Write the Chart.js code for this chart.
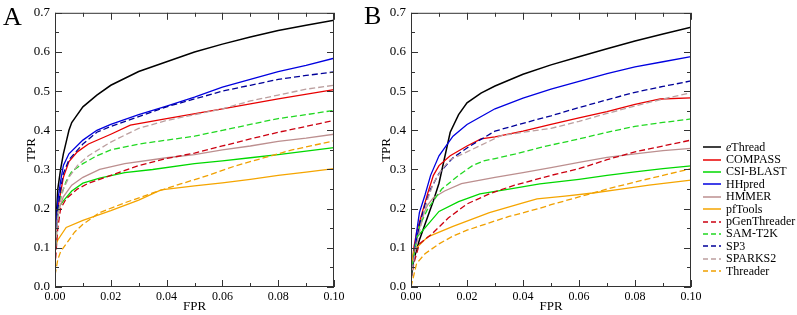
<!DOCTYPE html>
<html>
<head>
<meta charset="utf-8">
<script src="https://cdn.jsdelivr.net/npm/chart.js@4.4.0/dist/chart.umd.min.js"></script>
<style>
  body { margin: 0; background: #fff; }
  #wrap { position: relative; width: 797px; height: 315px; font-family: "Liberation Serif", serif; color: #000; }
  .panel { position: absolute; top: 0; height: 315px; }
  .letter { position: absolute; font-size: 26px; line-height: 26px; }
  #legend { position: absolute; left: 703px; top: 141px; font-size: 12px; z-index: 2; }
  .row { height: 12.4px; display: flex; align-items: center; white-space: nowrap; }
  .row svg { width: 18px; height: 4px; margin-right: 5px; }
</style>
</head>
<body>
<div id="wrap">
  <div class="panel" style="left:0;width:362px"><canvas id="chartA"></canvas></div>
  <div class="panel" style="left:360px;width:360px"><canvas id="chartB"></canvas></div>
  <div class="letter" style="left:3px;top:4px">A</div>
  <div class="letter" style="left:364px;top:3px">B</div>
  <div id="legend"></div>
</div>
<script>
// Métodos y estilos
const names = ['eThread', 'COMPASS', 'CSI-BLAST', 'HHpred', 'HMMER', 'pfTools',
               'pGenThreader', 'SAM-T2K', 'SP3', 'SPARKS2', 'Threader'];
const colors = ['#000000', '#e80000', '#00d800', '#0000e0', '#bc8f8f', '#f5a500',
                '#cc0010', '#22d822', '#000099', '#bc9f9f', '#f0a000'];
const dashed = [false, false, false, false, false, false, true, true, true, true, true];

// Ejes
const fprTicks = [0, 0.02, 0.04, 0.06, 0.08, 0.10];
const tprTicks = [0, 0.1, 0.2, 0.3, 0.4, 0.5, 0.6, 0.7];

// Panel A: [FPR, TPR]
const eThreadA = [[0,0.12],[0.001,0.25],[0.002,0.30],[0.003,0.34],[0.004,0.37],[0.005,0.40],[0.006,0.42],[0.007,0.43],[0.01,0.46],[0.015,0.49],[0.02,0.515],[0.03,0.55],[0.04,0.575],[0.05,0.60],[0.06,0.62],[0.07,0.638],[0.08,0.655],[0.09,0.668],[0.1,0.681]];
const compassA = [[0,0.1],[0.001,0.2],[0.002,0.24],[0.003,0.28],[0.005,0.32],[0.008,0.345],[0.012,0.365],[0.02,0.39],[0.027,0.413],[0.04,0.43],[0.06,0.455],[0.08,0.48],[0.1,0.504]];
const csiBlastA = [[0,0.1],[0.001,0.2],[0.003,0.22],[0.006,0.245],[0.01,0.265],[0.016,0.278],[0.025,0.292],[0.035,0.30],[0.05,0.315],[0.06,0.322],[0.07,0.33],[0.08,0.338],[0.09,0.347],[0.1,0.356]];
const hhpredA = [[0,0.10],[0.001,0.22],[0.002,0.27],[0.003,0.31],[0.005,0.34],[0.01,0.375],[0.015,0.40],[0.02,0.415],[0.03,0.44],[0.04,0.462],[0.05,0.485],[0.06,0.51],[0.07,0.53],[0.08,0.55],[0.09,0.566],[0.1,0.584]];
const hmmerA = [[0,0.1],[0.001,0.19],[0.003,0.23],[0.006,0.26],[0.01,0.28],[0.016,0.30],[0.025,0.315],[0.04,0.33],[0.05,0.338],[0.06,0.35],[0.07,0.36],[0.08,0.372],[0.09,0.38],[0.1,0.39]];
const pfToolsA = [[0,0.1],[0.001,0.12],[0.004,0.152],[0.01,0.17],[0.02,0.195],[0.03,0.222],[0.038,0.248],[0.05,0.258],[0.06,0.266],[0.07,0.275],[0.08,0.285],[0.09,0.293],[0.1,0.302]];
const pGenA = [[0,0.05],[0.001,0.15],[0.002,0.20],[0.004,0.225],[0.008,0.25],[0.012,0.265],[0.016,0.275],[0.02,0.285],[0.03,0.31],[0.04,0.328],[0.05,0.342],[0.06,0.36],[0.07,0.378],[0.08,0.395],[0.09,0.41],[0.1,0.425]];
const samT2kA = [[0,0.08],[0.001,0.18],[0.002,0.23],[0.004,0.27],[0.006,0.295],[0.01,0.315],[0.015,0.335],[0.02,0.35],[0.03,0.365],[0.04,0.375],[0.05,0.385],[0.06,0.40],[0.07,0.415],[0.08,0.43],[0.09,0.44],[0.1,0.451]];
const sp3A = [[0,0.08],[0.001,0.20],[0.002,0.25],[0.003,0.29],[0.005,0.325],[0.01,0.365],[0.015,0.395],[0.02,0.41],[0.03,0.435],[0.04,0.46],[0.05,0.48],[0.06,0.50],[0.07,0.515],[0.08,0.53],[0.09,0.54],[0.1,0.549]];
const sparks2A = [[0,0.08],[0.001,0.18],[0.002,0.22],[0.003,0.25],[0.005,0.28],[0.008,0.31],[0.012,0.335],[0.02,0.37],[0.03,0.405],[0.04,0.425],[0.05,0.44],[0.06,0.455],[0.07,0.475],[0.08,0.49],[0.09,0.505],[0.1,0.515]];
const threaderA = [[0,0.03],[0.001,0.07],[0.002,0.09],[0.004,0.11],[0.007,0.14],[0.01,0.16],[0.016,0.19],[0.025,0.215],[0.035,0.24],[0.045,0.263],[0.055,0.285],[0.065,0.31],[0.075,0.33],[0.085,0.35],[0.1,0.373]];

// Panel B: [FPR, TPR]
const eThreadB = [[0,0.02],[0.001,0.07],[0.003,0.12],[0.005,0.16],[0.008,0.22],[0.01,0.265],[0.012,0.33],[0.014,0.395],[0.017,0.44],[0.02,0.47],[0.025,0.495],[0.03,0.513],[0.04,0.543],[0.05,0.567],[0.06,0.588],[0.07,0.608],[0.08,0.628],[0.09,0.646],[0.1,0.663]];
const compassB = [[0,0.03],[0.001,0.1],[0.002,0.14],[0.004,0.19],[0.006,0.24],[0.008,0.285],[0.01,0.31],[0.014,0.335],[0.02,0.36],[0.025,0.378],[0.03,0.383],[0.04,0.398],[0.05,0.415],[0.06,0.432],[0.07,0.448],[0.08,0.466],[0.089,0.48],[0.1,0.483]];
const csiBlastB = [[0,0.03],[0.001,0.09],[0.002,0.126],[0.005,0.151],[0.01,0.193],[0.017,0.218],[0.0246,0.238],[0.035,0.25],[0.046,0.263],[0.06,0.275],[0.07,0.285],[0.08,0.294],[0.09,0.302],[0.1,0.309]];
const hhpredB = [[0,0.03],[0.001,0.08],[0.002,0.14],[0.003,0.19],[0.005,0.235],[0.007,0.285],[0.01,0.335],[0.015,0.385],[0.02,0.415],[0.03,0.455],[0.04,0.482],[0.05,0.505],[0.06,0.525],[0.07,0.545],[0.08,0.562],[0.09,0.575],[0.1,0.588]];
const hmmerB = [[0,0.04],[0.001,0.08],[0.002,0.12],[0.004,0.18],[0.006,0.21],[0.008,0.228],[0.012,0.245],[0.018,0.264],[0.03,0.28],[0.04,0.292],[0.05,0.305],[0.06,0.318],[0.07,0.331],[0.08,0.34],[0.09,0.348],[0.1,0.354]];
const pfToolsB = [[0,0.05],[0.001,0.09],[0.002,0.1],[0.006,0.128],[0.015,0.155],[0.028,0.19],[0.04,0.215],[0.045,0.225],[0.055,0.232],[0.065,0.24],[0.075,0.25],[0.085,0.26],[0.1,0.273]];
const pGenB = [[0,0.02],[0.001,0.06],[0.003,0.11],[0.0074,0.135],[0.0133,0.176],[0.02,0.212],[0.028,0.238],[0.037,0.26],[0.046,0.277],[0.05,0.285],[0.06,0.302],[0.07,0.325],[0.08,0.345],[0.09,0.36],[0.1,0.375]];
const samT2kB = [[0,0.03],[0.001,0.08],[0.003,0.155],[0.006,0.2],[0.011,0.25],[0.017,0.285],[0.022,0.31],[0.026,0.322],[0.03,0.328],[0.037,0.339],[0.046,0.356],[0.06,0.378],[0.07,0.395],[0.08,0.41],[0.09,0.42],[0.1,0.429]];
const sp3B = [[0,0.02],[0.001,0.07],[0.002,0.12],[0.003,0.16],[0.005,0.21],[0.007,0.25],[0.01,0.29],[0.015,0.33],[0.02,0.355],[0.025,0.377],[0.03,0.398],[0.04,0.418],[0.05,0.437],[0.06,0.458],[0.07,0.478],[0.08,0.497],[0.09,0.512],[0.1,0.526]];
const sparks2B = [[0,0.02],[0.001,0.07],[0.002,0.11],[0.004,0.17],[0.006,0.225],[0.008,0.265],[0.011,0.30],[0.014,0.325],[0.02,0.345],[0.025,0.362],[0.032,0.386],[0.04,0.395],[0.05,0.405],[0.06,0.423],[0.07,0.443],[0.08,0.462],[0.09,0.48],[0.1,0.496]];
const threaderB = [[0,0.0],[0.001,0.03],[0.002,0.06],[0.005,0.085],[0.01,0.11],[0.015,0.13],[0.02,0.145],[0.028,0.164],[0.035,0.18],[0.046,0.201],[0.05,0.21],[0.06,0.23],[0.07,0.25],[0.08,0.268],[0.09,0.285],[0.1,0.302]];

const seriesA = [eThreadA, compassA, csiBlastA, hhpredA, hmmerA, pfToolsA, pGenA, samT2kA, sp3A, sparks2A, threaderA];
const seriesB = [eThreadB, compassB, csiBlastB, hhpredB, hmmerB, pfToolsB, pGenB, samT2kB, sp3B, sparks2B, threaderB];

const fuente = { family: 'Liberation Serif', size: 12 };

// Marco y marcas hacia dentro en los cuatro lados
const marcoEjes = {
    id: 'marcoEjes',
    afterDatasetsDraw(chart) {
        const { ctx, chartArea: a, scales: { x, y } } = chart;
        ctx.save();
        ctx.strokeStyle = '#333';
        ctx.lineWidth = 1;
        ctx.strokeRect(a.left + 0.5, a.top + 0.5, a.right - a.left - 1, a.bottom - a.top - 1);
        ctx.beginPath();
        for (let i = 0; i <= 10; i++) {
            const px = Math.round(x.getPixelForValue(i * 0.01)) + 0.5;
            const len = i % 2 === 0 ? 7 : 4;
            ctx.moveTo(px, a.bottom); ctx.lineTo(px, a.bottom - len);
            ctx.moveTo(px, a.top); ctx.lineTo(px, a.top + len);
        }
        for (let j = 0; j <= 14; j++) {
            const py = Math.round(y.getPixelForValue(j * 0.05)) + 0.5;
            const len = j % 2 === 0 ? 7 : 4;
            ctx.moveTo(a.left, py); ctx.lineTo(a.left + len, py);
            ctx.moveTo(a.right, py); ctx.lineTo(a.right - len, py);
        }
        ctx.stroke();
        ctx.restore();
    }
};

function crearGrafico(id, series, padLeft, padRight, yWidth) {
    const datasets = series.map((s, i) => ({
        label: names[i],
        data: s.map(p => ({ x: p[0], y: p[1] })),
        borderColor: colors[i],
        borderWidth: i === 0 ? 1.5 : 1.3,
        borderDash: dashed[i] ? [6, 3] : [],
        pointRadius: 0,
        tension: 0,
        fill: false
    })).reverse();

    return new Chart(document.getElementById(id), {
        type: 'line',
        data: { datasets },
        options: {
            responsive: true,
            maintainAspectRatio: false,
            animation: false,
            layout: { autoPadding: false, padding: { left: padLeft, right: padRight, top: 8, bottom: 0 } },
            plugins: { legend: { display: false }, tooltip: { enabled: false } },
            scales: {
                x: {
                    type: 'linear', min: 0, max: 0.1,
                    grid: { display: false, drawTicks: false },
                    border: { display: false },
                    afterBuildTicks: s => { s.ticks = fprTicks.map(v => ({ value: v })); },
                    afterFit: s => { s.height = 28; },
                    ticks: { color: '#000', font: fuente, padding: 3, maxRotation: 0, callback: v => v.toFixed(2) },
                    title: { display: true, text: 'FPR', color: '#000', font: { family: 'Liberation Serif', size: 13 }, padding: { top: 0, bottom: 1 } }
                },
                y: {
                    type: 'linear', min: 0, max: 0.7,
                    grid: { display: false, drawTicks: false },
                    border: { display: false },
                    afterBuildTicks: s => { s.ticks = tprTicks.map(v => ({ value: v })); },
                    afterFit: s => { s.width = yWidth; },
                    ticks: { color: '#000', font: { family: 'Liberation Serif', size: 13 }, padding: 5, callback: v => v.toFixed(1) },
                    title: { display: true, text: 'TPR', color: '#000', font: { family: 'Liberation Serif', size: 13 }, padding: { top: 4, bottom: 0 } }
                }
            }
        },
        plugins: [marcoEjes]
    });
}

crearGrafico('chartA', seriesA, 20, 28, 35);
crearGrafico('chartB', seriesB, 15, 29, 36);

// Leyenda
const leyenda = document.getElementById('legend');
names.forEach((n, i) => {
    const fila = document.createElement('div');
    fila.className = 'row';
    const dash = dashed[i] ? 'stroke-dasharray="5 3"' : '';
    const texto = n === 'eThread' ? '<i>e</i>Thread' : n;
    fila.innerHTML = `<svg viewBox="0 0 18 4"><line x1="0" y1="2" x2="18" y2="2" stroke="${colors[i]}" stroke-width="1.5" ${dash}/></svg><span>${texto}</span>`;
    leyenda.appendChild(fila);
});
</script>
</body>
</html>
